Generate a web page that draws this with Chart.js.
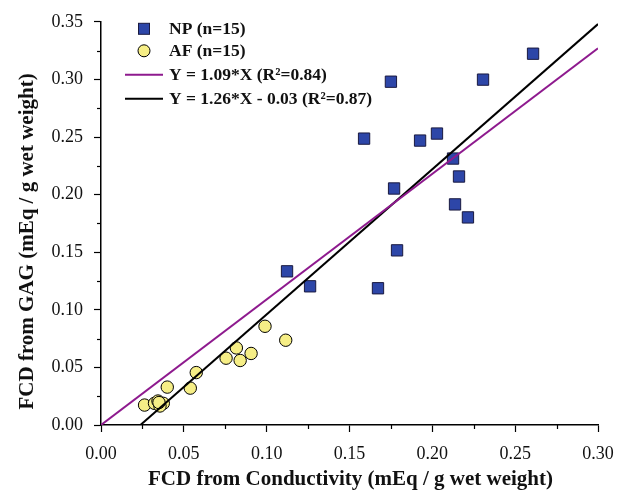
<!DOCTYPE html>
<html>
<head>
<meta charset="utf-8">
<script src="https://cdn.jsdelivr.net/npm/chart.js@4"></script>
<style>
html,body{margin:0;padding:0;background:#fff;}
#wrap{width:626px;height:492px;}
</style>
</head>
<body>
<div id="wrap"><canvas id="c" width="626" height="492"></canvas></div>
<script>
// NP points
const npX = [0.2608,0.2306,0.1750,0.1588,0.1926,0.2028,0.2125,0.2161,0.1769,0.2137,0.2215,0.1787,0.1123,0.1262,0.1672];
const npY = [0.3223,0.2998,0.2980,0.2486,0.2469,0.2530,0.2313,0.2157,0.2053,0.1915,0.1802,0.1516,0.1334,0.1204,0.1187];
// AF points
const afX = [0.0263,0.0323,0.0344,0.0376,0.0356,0.0350,0.0400,0.0539,0.0575,0.0755,0.0817,0.0840,0.0906,0.0990,0.1115];
const afY = [0.0173,0.0188,0.0208,0.0188,0.0165,0.0195,0.0329,0.0320,0.0455,0.0580,0.0669,0.0560,0.0621,0.0857,0.0736];
// Fit line endpoints
const fit1X = [0.00,0.30];
const fit1Y = [0.00,0.327];
const fit2X = [0.0238,0.30];
const fit2Y = [0.00,0.348];
const xTicks = [0.00,0.05,0.10,0.15,0.20,0.25,0.30];
const yTicks = [0.00,0.05,0.10,0.15,0.20,0.25,0.30,0.35];
const labels = ['NP (n=15)','AF (n=15)','Y = 1.09*X (R\u00B2=0.84)','Y = 1.26*X - 0.03 (R\u00B2=0.87)'];
const xTitle = 'FCD from Conductivity (mEq / g wet weight)';
const yTitle = 'FCD from GAG (mEq / g wet weight)';

const zip = (xs,ys)=>xs.map((x,i)=>({x:x,y:ys[i]}));
const PURPLE = '#8E1A8E';
const BLUE = '#2D46A8';
const YEL = '#F6EE86';
const serif = '"Liberation Serif", "Times New Roman", serif';

const minorTicks = {
  id:'minorTicks',
  afterDraw(chart){
    const ctx = chart.ctx;
    const xs = chart.scales.x, ys = chart.scales.y;
    ctx.save();
    ctx.strokeStyle = '#000';
    ctx.lineWidth = 1.2;
    for(let i=0;i<xTicks.length-1;i++){
      const v=(xTicks[i]+xTicks[i+1])/2;
      const px=Math.round(xs.getPixelForValue(v))+0.5;
      ctx.beginPath();ctx.moveTo(px,xs.top);ctx.lineTo(px,xs.top+4);ctx.stroke();
    }
    for(let i=0;i<yTicks.length-1;i++){
      const v=(yTicks[i]+yTicks[i+1])/2;
      const py=Math.round(ys.getPixelForValue(v))+0.5;
      ctx.beginPath();ctx.moveTo(ys.right,py);ctx.lineTo(ys.right-4,py);ctx.stroke();
    }
    ctx.restore();
  }
};

const axisTitles = {
  id:'axisTitles',
  afterDraw(chart){
    const ctx = chart.ctx;
    const a = chart.chartArea;
    ctx.save();
    ctx.fillStyle = '#111';
    ctx.textAlign = 'center';
    ctx.textBaseline = 'middle';
    ctx.font = 'bold 21px ' + serif;
    ctx.fillText(xTitle, (a.left+a.right)/2 + 1, chart.height - 12);
    ctx.translate(28, (a.top+a.bottom)/2 + 18);
    ctx.rotate(-Math.PI/2);
    ctx.font = 'bold 21px ' + serif;
    ctx.fillText(yTitle, 0, 0);
    ctx.restore();
  }
};

const customLegend = {
  id:'customLegend',
  afterDraw(chart){
    const ctx = chart.ctx;
    const a = chart.chartArea;
    const mx = a.left + 43;
    const rows = [a.top+7, a.top+29, a.top+53, a.top+77];
    ctx.save();
    ctx.fillStyle = BLUE; ctx.strokeStyle = '#1a1a40'; ctx.lineWidth = 1;
    ctx.fillRect(mx-5.5, rows[0]-5.5, 11, 11);
    ctx.strokeRect(mx-5.5, rows[0]-5.5, 11, 11);
    ctx.beginPath(); ctx.arc(mx, rows[1], 6, 0, Math.PI*2);
    ctx.fillStyle = YEL; ctx.fill(); ctx.strokeStyle='#000'; ctx.stroke();
    ctx.lineWidth = 2;
    ctx.strokeStyle = PURPLE;
    ctx.beginPath(); ctx.moveTo(a.left+24, rows[2]); ctx.lineTo(a.left+62, rows[2]); ctx.stroke();
    ctx.strokeStyle = '#000';
    ctx.beginPath(); ctx.moveTo(a.left+24, rows[3]); ctx.lineTo(a.left+62, rows[3]); ctx.stroke();
    ctx.fillStyle = '#111';
    ctx.font = 'bold 17.5px ' + serif;
    ctx.textBaseline = 'middle';
    ctx.textAlign = 'left';
    for(let i=0;i<4;i++) ctx.fillText(labels[i], a.left+68, rows[i]+1);
    ctx.restore();
  }
};

new Chart(document.getElementById('c'), {
  type:'scatter',
  data:{
    datasets:[
      {label:labels[2], type:'line', data:zip(fit1X,fit1Y), borderColor:PURPLE, borderWidth:2, pointRadius:0, fill:false, order:0},
      {label:labels[3], type:'line', data:zip(fit2X,fit2Y), borderColor:'#000', borderWidth:2, pointRadius:0, fill:false, order:0},
      {label:labels[0], data:zip(npX,npY), pointStyle:'rect', pointRadius:8, backgroundColor:BLUE, borderColor:'#1a1a40', borderWidth:1, order:1},
      {label:labels[1], data:zip(afX,afY), pointStyle:'circle', pointRadius:6.2, backgroundColor:YEL, borderColor:'#000', borderWidth:1, order:1}
    ]
  },
  options:{
    responsive:false,
    animation:false,
    layout:{padding:{top:21,right:28,left:0,bottom:0}},
    plugins:{legend:{display:false}, tooltip:{enabled:false}},
    scales:{
      x:{
        type:'linear', min:0, max:0.30,
        afterFit(s){ s.height = 67; },
        afterBuildTicks(s){ s.ticks = xTicks.map(v=>({value:v})); },
        ticks:{ color:'#111', font:{family:serif, size:18}, padding:11, callback:v=>v.toFixed(2), maxRotation:0 },
        grid:{ display:true, drawOnChartArea:false, drawTicks:true, tickLength:7, tickColor:'#000', tickWidth:1.2 },
        border:{ display:true, color:'#000', width:1.5 },
        title:{ display:false }
      },
      y:{
        type:'linear', min:0, max:0.35,
        afterFit(s){ s.width = 101; },
        afterBuildTicks(s){ s.ticks = yTicks.map(v=>({value:v})); },
        ticks:{ color:'#111', font:{family:serif, size:18}, padding:11, callback:v=>v.toFixed(2) },
        grid:{ display:true, drawOnChartArea:false, drawTicks:true, tickLength:7, tickColor:'#000', tickWidth:1.2 },
        border:{ display:true, color:'#000', width:1.5 },
        title:{ display:false }
      }
    }
  },
  plugins:[minorTicks, axisTitles, customLegend]
});
</script>
</body>
</html>
